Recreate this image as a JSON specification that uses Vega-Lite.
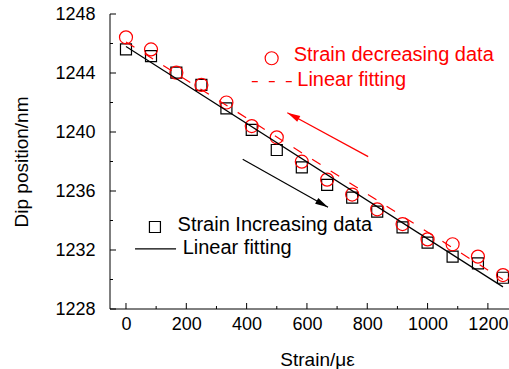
{
  "$schema": "https://vega.github.io/schema/vega-lite/v6.json",
  "width": 399,
  "height": 295,
  "autosize": {"type": "none"},
  "padding": {"left": 110, "top": 14, "right": 0, "bottom": 60},
  "background": "white",
  "config": {
    "view": {"stroke": null},
    "font": "Liberation Sans",
    "axis": {"grid": false, "labelColor": "black", "titleColor": "black", "titleFontWeight": "normal", "labelFlush": false, "labelOverlap": false}
  },
  "datasets": {
    "inc": [
      {"x": 0, "y": 1245.6}, {"x": 83, "y": 1245.15}, {"x": 167, "y": 1244.02}, {"x": 250, "y": 1243.19},
      {"x": 333, "y": 1241.6}, {"x": 417, "y": 1240.14}, {"x": 500, "y": 1238.78}, {"x": 583, "y": 1237.6},
      {"x": 667, "y": 1236.41}, {"x": 750, "y": 1235.55}, {"x": 833, "y": 1234.6}, {"x": 917, "y": 1233.54},
      {"x": 1000, "y": 1232.5}, {"x": 1083, "y": 1231.55}, {"x": 1167, "y": 1231.1}, {"x": 1250, "y": 1230.12}
    ],
    "dec": [
      {"x": 0, "y": 1246.42}, {"x": 83, "y": 1245.6}, {"x": 167, "y": 1244.02}, {"x": 250, "y": 1243.19},
      {"x": 333, "y": 1242.0}, {"x": 417, "y": 1240.4}, {"x": 500, "y": 1239.64}, {"x": 583, "y": 1237.99},
      {"x": 667, "y": 1236.77}, {"x": 750, "y": 1235.76}, {"x": 833, "y": 1234.76}, {"x": 917, "y": 1233.76},
      {"x": 1000, "y": 1232.72}, {"x": 1083, "y": 1232.39}, {"x": 1167, "y": 1231.55}, {"x": 1250, "y": 1230.3}
    ],
    "fitInc": [{"x": 0, "y": 1245.8}, {"x": 1250, "y": 1229.5}],
    "fitDec": [{"x": 0, "y": 1246.1}, {"x": 1250, "y": 1230.0}],
    "arrowDec": [{"x": 803, "y": 1238.33, "x2": 535, "y2": 1241.31}],
    "arrowInc": [{"x": 387, "y": 1238.15, "x2": 670, "y2": 1234.9}],
    "legDecSym": [{"x": 483, "y": 1245.0}],
    "legDecLine": [{"x": 417, "x2": 553, "y": 1243.41}],
    "legDecText": [{"x": 556, "y": 1245.19, "label": "Strain decreasing data"}, {"x": 568, "y": 1243.53, "label": "Linear fitting"}],
    "legIncSym": [{"x": 96, "y": 1233.56}],
    "legIncLine": [{"x": 30, "x2": 166, "y": 1232.07}],
    "legIncText": [{"x": 171, "y": 1233.7, "label": "Strain Increasing data"}, {"x": 188, "y": 1232.14, "label": "Linear fitting"}],
    "majorX": [{"x": 0}, {"x": 200}, {"x": 400}, {"x": 600}, {"x": 800}, {"x": 1000}, {"x": 1200}],
    "minorX": [{"x": 100}, {"x": 300}, {"x": 500}, {"x": 700}, {"x": 900}, {"x": 1100}],
    "majorY": [{"y": 1228}, {"y": 1232}, {"y": 1236}, {"y": 1240}, {"y": 1244}, {"y": 1248}],
    "minorY": [{"y": 1230}, {"y": 1234}, {"y": 1238}, {"y": 1242}, {"y": 1246}]
  },
  "layer": [
    {
      "data": {"name": "inc"},
      "mark": {"type": "point", "shape": "square", "size": 121, "filled": false, "stroke": "black", "strokeWidth": 1.2, "opacity": 1},
      "encoding": {
        "x": {"field": "x", "type": "quantitative",
          "scale": {"domain": [-53, 1270], "nice": false, "zero": false},
          "axis": {
            "orient": "bottom",
            "title": "Strain/με",
            "values": [0, 200, 400, 600, 800, 1000, 1200],
            "format": "d",
            "domain": false,
            "ticks": false,
            "labelPadding": 6,
            "labelFontSize": 18,
            "titleFontSize": 19,
            "titleX": 207,
            "titleY": 56,
            "titleBaseline": "alphabetic"
          }
        },
        "y": {"field": "y", "type": "quantitative",
          "scale": {"domain": [1228, 1248], "nice": false, "zero": false},
          "axis": {
            "orient": "left",
            "title": "Dip position/nm",
            "values": [1228, 1232, 1236, 1240, 1244, 1248],
            "format": "d",
            "domain": false,
            "ticks": false,
            "labelPadding": 15,
            "labelFontSize": 18,
            "titleFontSize": 19,
            "titleX": -83,
            "titleBaseline": "alphabetic"
          }
        }
      }
    },
    {
      "data": {"name": "dec"},
      "mark": {"type": "point", "shape": "circle", "size": 169, "filled": false, "stroke": "#ff0000", "strokeWidth": 1.2, "opacity": 1},
      "encoding": {"x": {"field": "x", "type": "quantitative"}, "y": {"field": "y", "type": "quantitative"}}
    },
    {
      "data": {"name": "fitInc"},
      "mark": {"type": "line", "color": "black", "strokeWidth": 1.2},
      "encoding": {"x": {"field": "x", "type": "quantitative"}, "y": {"field": "y", "type": "quantitative"}}
    },
    {
      "data": {"name": "fitDec"},
      "mark": {"type": "line", "color": "#ff0000", "strokeWidth": 1.2, "strokeDash": [10, 12]},
      "encoding": {"x": {"field": "x", "type": "quantitative"}, "y": {"field": "y", "type": "quantitative"}}
    },
    {
      "data": {"name": "arrowDec"},
      "mark": {"type": "rule", "color": "#ff0000", "strokeWidth": 1.2},
      "encoding": {"x": {"field": "x", "type": "quantitative"}, "y": {"field": "y", "type": "quantitative"}, "x2": {"field": "x2"}, "y2": {"field": "y2"}}
    },
    {
      "data": {"name": "arrowDec"},
      "mark": {"type": "point", "shape": "M0,0 L-0.25,1 L0.25,1 Z", "size": 676, "filled": true, "color": "#ff0000", "opacity": 1, "angle": 298.5},
      "encoding": {"x": {"field": "x2", "type": "quantitative"}, "y": {"field": "y2", "type": "quantitative"}}
    },
    {
      "data": {"name": "arrowInc"},
      "mark": {"type": "rule", "color": "black", "strokeWidth": 1.2},
      "encoding": {"x": {"field": "x", "type": "quantitative"}, "y": {"field": "y", "type": "quantitative"}, "x2": {"field": "x2"}, "y2": {"field": "y2"}}
    },
    {
      "data": {"name": "arrowInc"},
      "mark": {"type": "point", "shape": "M0,0 L-0.25,1 L0.25,1 Z", "size": 676, "filled": true, "color": "black", "opacity": 1, "angle": 119.3},
      "encoding": {"x": {"field": "x2", "type": "quantitative"}, "y": {"field": "y2", "type": "quantitative"}}
    },
    {
      "data": {"name": "legDecSym"},
      "mark": {"type": "point", "shape": "circle", "size": 169, "filled": false, "stroke": "#ff0000", "strokeWidth": 1.2, "opacity": 1},
      "encoding": {"x": {"field": "x", "type": "quantitative"}, "y": {"field": "y", "type": "quantitative"}}
    },
    {
      "data": {"name": "legDecLine"},
      "mark": {"type": "rule", "color": "#ff0000", "strokeWidth": 1.2, "strokeDash": [6, 11]},
      "encoding": {"x": {"field": "x", "type": "quantitative"}, "x2": {"field": "x2"}, "y": {"field": "y", "type": "quantitative"}}
    },
    {
      "data": {"name": "legDecText"},
      "mark": {"type": "text", "align": "left", "baseline": "middle", "fontSize": 20, "color": "#ff0000", "font": "Liberation Sans"},
      "encoding": {"x": {"field": "x", "type": "quantitative"}, "y": {"field": "y", "type": "quantitative"}, "text": {"field": "label"}}
    },
    {
      "data": {"name": "legIncSym"},
      "mark": {"type": "point", "shape": "square", "size": 121, "filled": false, "stroke": "black", "strokeWidth": 1.2, "opacity": 1},
      "encoding": {"x": {"field": "x", "type": "quantitative"}, "y": {"field": "y", "type": "quantitative"}}
    },
    {
      "data": {"name": "legIncLine"},
      "mark": {"type": "rule", "color": "black", "strokeWidth": 1.2},
      "encoding": {"x": {"field": "x", "type": "quantitative"}, "x2": {"field": "x2"}, "y": {"field": "y", "type": "quantitative"}}
    },
    {
      "data": {"name": "legIncText"},
      "mark": {"type": "text", "align": "left", "baseline": "middle", "fontSize": 20, "color": "black", "font": "Liberation Sans"},
      "encoding": {"x": {"field": "x", "type": "quantitative"}, "y": {"field": "y", "type": "quantitative"}, "text": {"field": "label"}}
    },
    {
      "data": {"values": [{}]},
      "mark": {"type": "rule", "color": "black", "strokeWidth": 1},
      "encoding": {"x": {"datum": -53, "type": "quantitative"}, "y": {"datum": 1228, "type": "quantitative"}, "y2": {"datum": 1248}}
    },
    {
      "data": {"values": [{}]},
      "mark": {"type": "rule", "color": "black", "strokeWidth": 1},
      "encoding": {"y": {"datum": 1228, "type": "quantitative"}, "x": {"datum": -53, "type": "quantitative"}, "x2": {"datum": 1270}}
    },
    {
      "data": {"name": "majorX"},
      "mark": {"type": "tick", "orient": "vertical", "size": 6, "thickness": 1, "yOffset": -3, "color": "black", "opacity": 1},
      "encoding": {"x": {"field": "x", "type": "quantitative"}, "y": {"datum": 1228, "type": "quantitative"}}
    },
    {
      "data": {"name": "minorX"},
      "mark": {"type": "tick", "orient": "vertical", "size": 3, "thickness": 1, "yOffset": -1.5, "color": "black", "opacity": 1},
      "encoding": {"x": {"field": "x", "type": "quantitative"}, "y": {"datum": 1228, "type": "quantitative"}}
    },
    {
      "data": {"name": "majorY"},
      "mark": {"type": "tick", "orient": "horizontal", "size": 6, "thickness": 1, "xOffset": 3, "color": "black", "opacity": 1},
      "encoding": {"y": {"field": "y", "type": "quantitative"}, "x": {"datum": -53, "type": "quantitative"}}
    },
    {
      "data": {"name": "minorY"},
      "mark": {"type": "tick", "orient": "horizontal", "size": 3, "thickness": 1, "xOffset": 1.5, "color": "black", "opacity": 1},
      "encoding": {"y": {"field": "y", "type": "quantitative"}, "x": {"datum": -53, "type": "quantitative"}}
    }
  ]
}
